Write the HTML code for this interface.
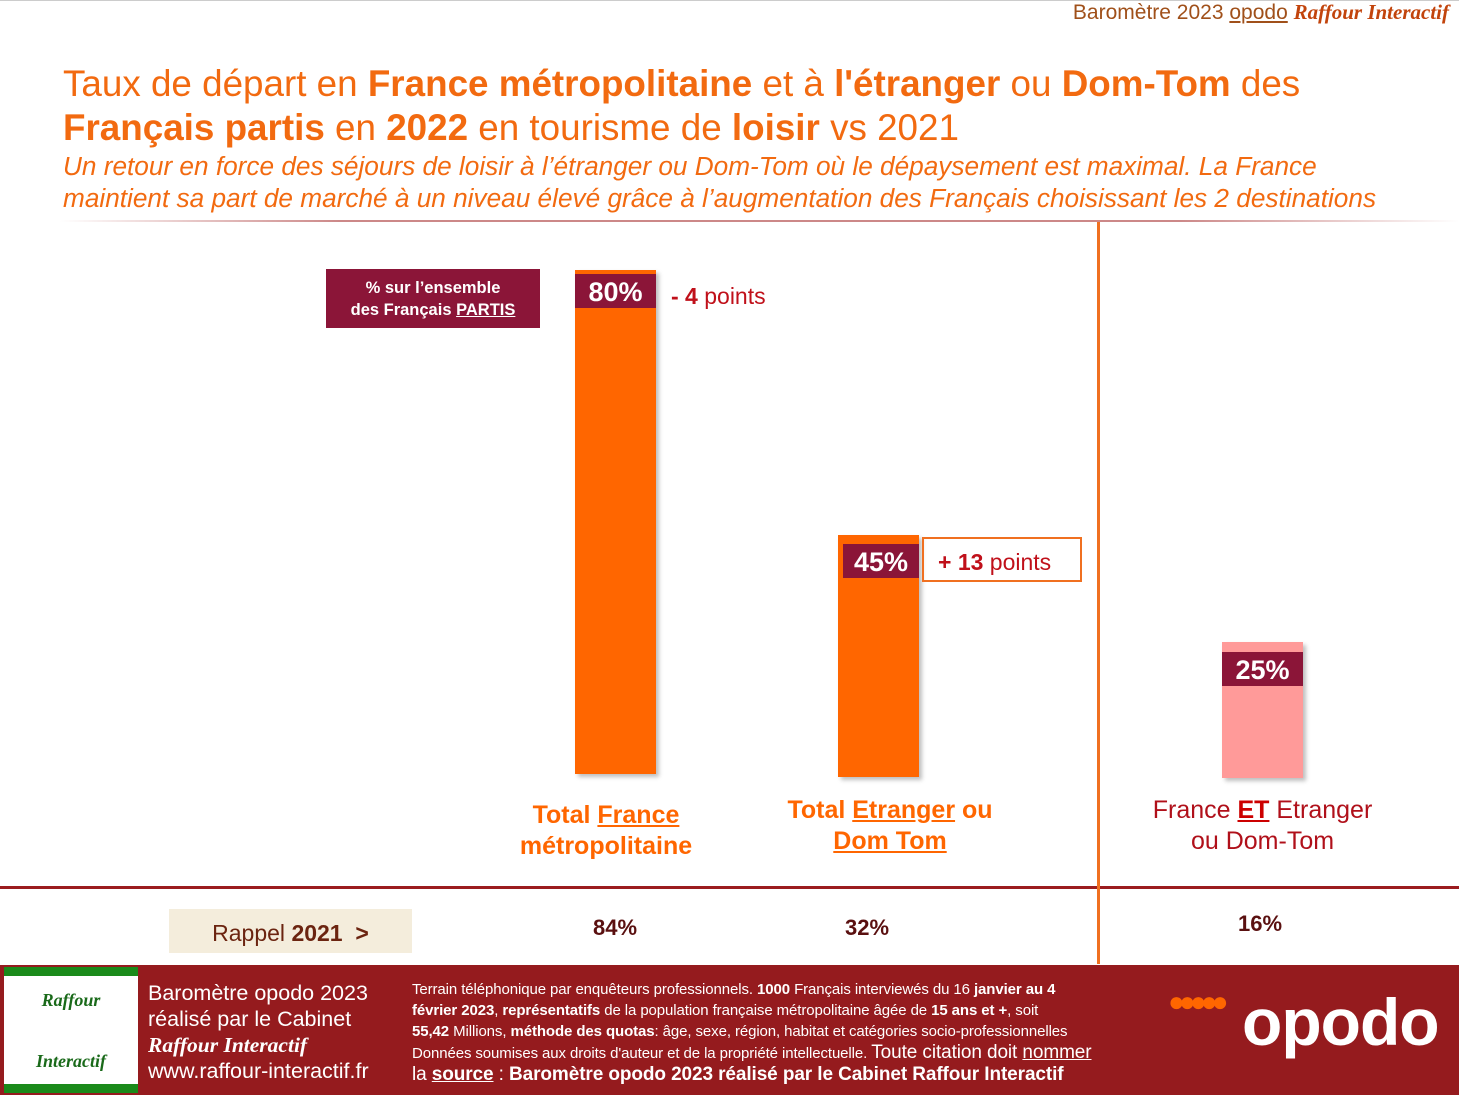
<!DOCTYPE html>
<html><head><meta charset="utf-8"><style>
body{margin:0;width:1459px;height:1095px;position:relative;overflow:hidden;background:#fff;font-family:"Liberation Sans",sans-serif}
.a{position:absolute}
.t{color:#f26a10;font-size:36.8px;left:63px;line-height:44px;white-space:nowrap}
.i{color:#f26a10;font-style:italic;font-size:26.2px;left:63px;line-height:32px;white-space:nowrap}
.bar{position:absolute;background:#ff6600;box-shadow:3px 3px 4px rgba(0,0,0,.25)}
.lab{position:absolute;background:#8b1538;color:#fff;font-weight:bold;font-size:27px;text-align:center}
.cat{position:absolute;text-align:center;font-size:25px;font-weight:bold;color:#ff6600;line-height:31px}
.u{text-decoration:underline}
.f{color:#fff}
</style></head><body>
<div class="a" style="left:0;top:0;width:1459px;height:1px;background:#ccc"></div>
<div class="a" style="right:10px;top:0;font-size:21px;color:#a0501a">Baromètre 2023 <span class="u">opodo</span> <i style="font-family:'Liberation Serif';font-weight:bold;color:#c2440c">Raffour Interactif</i></div>
<div class="a t" style="top:62px">Taux de départ en <b>France métropolitaine</b> et à <b>l'étranger</b> ou <b>Dom-Tom</b> des</div>
<div class="a t" style="top:106px"><b>Français partis</b> en <b>2022</b> en tourisme de <b>loisir</b> vs 2021</div>
<div class="a i" style="top:150px">Un retour en force des séjours de loisir à l’étranger ou Dom-Tom où le dépaysement est maximal. La France</div>
<div class="a i" style="top:182px">maintient sa part de marché à un niveau élevé grâce à l’augmentation des Français choisissant les 2 destinations</div>
<div class="a" style="left:60px;top:220px;width:1399px;height:2px;background:linear-gradient(90deg,#fff,#c88 20%,#c88 80%,#fff)"></div>
<div class="a" style="left:1300px;top:889px;width:159px;height:76px;background:#fff;border-bottom-right-radius:60px;z-index:1"></div>
<div class="a" style="left:1097px;top:222px;width:3px;height:742px;background:#f07020;z-index:2"></div>
<div class="a" style="left:326px;top:269px;width:214px;height:59px;background:#8b1538;color:#fff;font-weight:bold;font-size:16.5px;text-align:center;line-height:22px;padding-top:8px;box-sizing:border-box">% sur l’ensemble<br>des Français <span class="u">PARTIS</span></div>
<div class="bar" style="left:575px;top:270px;width:81px;height:504px"></div>
<div class="lab" style="left:575px;top:274px;width:81px;height:34px;line-height:36px">80%</div>
<div class="a" style="left:671px;top:283px;font-size:23px;color:#c0101a"><b>- 4</b> points</div>
<div class="bar" style="left:838px;top:535px;width:81px;height:242px"></div>
<div class="lab" style="left:843px;top:544px;width:76px;height:34px;line-height:36px">45%</div>
<div class="a" style="left:922px;top:537px;width:160px;height:45px;border:2px solid #f07020;font-size:23px;color:#c0101a;line-height:46px;text-indent:14px;box-sizing:border-box"><b>+ 13</b> points</div>
<div class="bar" style="left:1222px;top:642px;width:81px;height:136px;background:#ff9a99"></div>
<div class="lab" style="left:1222px;top:652px;width:81px;height:34px;line-height:36px">25%</div>
<div class="cat" style="left:496px;top:800px;width:220px">Total <span class="u">France</span><br>métropolitaine</div>
<div class="cat" style="left:770px;top:795px;width:240px">Total <span class="u">Etranger</span> ou<br><span class="u">Dom Tom</span></div>
<div class="cat" style="left:1130px;top:795px;width:265px;font-weight:normal;color:#b0101a;font-size:25px;line-height:31px">France <b class="u" style="color:#c00">ET</b> Etranger<br>ou Dom-Tom</div>
<div class="a" style="left:0;top:886px;width:1459px;height:3px;background:#9b1c1f"></div>
<div class="a" style="left:169px;top:909px;width:243px;height:44px;background:#f4eddc;font-size:23px;color:#6b2410;line-height:48px;text-align:center">Rappel <b>2021 &nbsp;&gt;</b></div>
<div class="a" style="left:593px;top:915px;font-size:22px;font-weight:bold;color:#5a1010">84%</div>
<div class="a" style="left:845px;top:915px;font-size:22px;font-weight:bold;color:#5a1010">32%</div>
<div class="a" style="left:1238px;top:911px;font-size:22px;font-weight:bold;color:#5a1010">16%</div>
<div class="a" style="left:0;top:965px;width:1459px;height:130px;background:#951b1e"></div>
<div class="a" style="left:4px;top:967px;width:134px;height:126px;background:#fff;border-top:9px solid #1a8a1a;border-bottom:9px solid #1a8a1a;box-sizing:border-box;font-family:'Liberation Serif';font-style:italic;font-weight:bold;color:#1a6a1a;font-size:18px;text-align:center">
<div style="margin-top:14px">Raffour</div><div style="margin-top:40px">Interactif</div></div>
<div class="a f" style="left:148px;top:980px;font-size:21.5px;line-height:26px">Baromètre opodo 2023<br>réalisé par le Cabinet<br><i style="font-family:'Liberation Serif';font-weight:bold">Raffour Interactif</i><br>www.raffour-interactif.fr</div>
<div class="a f" style="left:412px;top:979px;font-size:15px;line-height:21px;width:740px;letter-spacing:-0.1px">Terrain téléphonique par enquêteurs professionnels. <b>1000</b> Français interviewés du 16 <b>janvier au 4</b><br><b>février 2023</b>, <b>représentatifs</b> de la population française métropolitaine âgée de <b>15 ans et +</b>, soit<br><b>55,42</b> Millions, <b>méthode des quotas</b>: âge, sexe, région, habitat et catégories socio-professionnelles<br>Données soumises aux droits d'auteur et de la propriété intellectuelle. <span style="font-size:19px">Toute citation doit <span class="u">nommer</span></span><br><span style="font-size:19px;white-space:nowrap">la <b class="u">source</b> : <b>Baromètre opodo 2023 réalisé par le Cabinet Raffour Interactif</b></span></div>
<div class="a" style="left:1168px;top:986px;color:#ff6600;font-size:28px;letter-spacing:-6px">●●●●●</div>
<div class="a f" style="left:1242px;top:984px;font-size:66px;font-weight:bold;letter-spacing:-1px">opodo</div>
</body></html>
